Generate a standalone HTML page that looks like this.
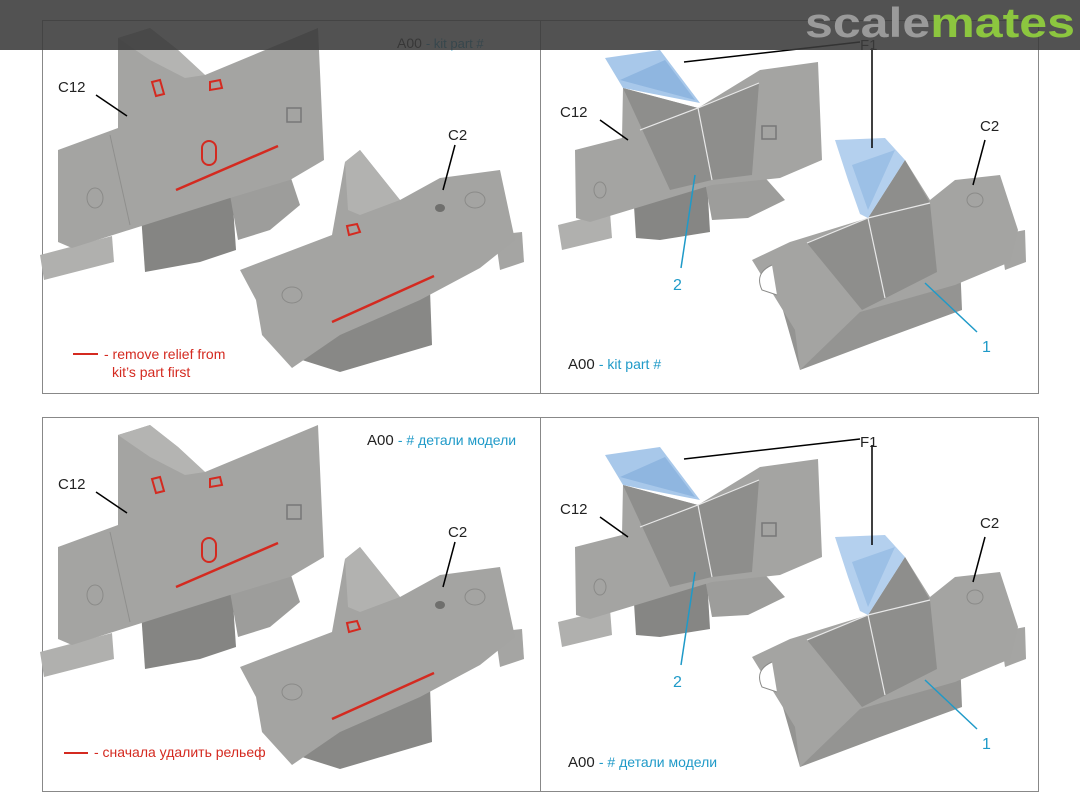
<!DOCTYPE html>
<html><head><meta charset="utf-8"><style>
html,body{margin:0;padding:0;background:#fff;width:1080px;height:810px;overflow:hidden}
svg{display:block}
text{font-family:"Liberation Sans","DejaVu Sans",sans-serif}
</style></head><body>
<svg width="1080" height="810" viewBox="0 0 1080 810" xmlns="http://www.w3.org/2000/svg">
<defs>
<g id="lp">
 <!-- C12 left -->
 <polygon points="40,255 112,236 114,262 44,280" fill="#b0b0ae"/>
 <polygon points="140,200 232,190 236,250 200,262 145,272" fill="#858583"/>
 <polygon points="230,195 290,175 300,205 270,230 238,240" fill="#9d9d9b"/>
 <polygon points="58,150 118,128 118,38 150,28 178,50 205,75 318,28 324,160 290,180 230,198 72,248 58,242" fill="#a4a4a2"/>
 <polygon points="118,38 150,28 178,50 205,75 185,78 150,60" fill="#b4b4b2"/>
 <line x1="110" y1="135" x2="130" y2="225" stroke="#8f8f8d" stroke-width="1"/>
 <ellipse cx="95" cy="198" rx="8" ry="10" fill="none" stroke="#8a8a88"/>
 <rect x="287" y="108" width="14" height="14" fill="none" stroke="#777" stroke-width="1.5"/>
 <polygon points="152,82 160,80 164,94 156,96" fill="none" stroke="#d42a20" stroke-width="2"/>
 <polygon points="210,82 220,80 222,88 210,90" fill="none" stroke="#d42a20" stroke-width="2"/>
 <rect x="202" y="141" width="14" height="24" rx="7" fill="none" stroke="#d42a20" stroke-width="2"/>
 <line x1="176" y1="190" x2="278" y2="146" stroke="#d42a20" stroke-width="2.5"/>
 <!-- C2 left -->
 <polygon points="300,320 430,290 432,345 340,372 302,360" fill="#888886"/>
 <polygon points="495,235 522,232 524,262 500,270" fill="#a5a5a3"/>
 <polygon points="240,270 332,235 345,162 360,150 380,175 400,200 440,178 500,170 515,240 480,268 420,300 340,335 292,368 262,335 256,300" fill="#a4a4a2"/>
 <polygon points="345,162 360,150 380,175 400,200 360,215 348,210" fill="#b2b2b0"/>
 <ellipse cx="292" cy="295" rx="10" ry="8" fill="none" stroke="#8a8a88"/>
 <ellipse cx="475" cy="200" rx="10" ry="8" fill="none" stroke="#8a8a88"/>
 <ellipse cx="440" cy="208" rx="5" ry="4" fill="#6f6f6d"/>
 <polygon points="347,226 357,224 360,232 349,235" fill="none" stroke="#d42a20" stroke-width="2"/>
 <line x1="332" y1="322" x2="434" y2="276" stroke="#d42a20" stroke-width="2.5"/>
 <!-- labels -->
 <line x1="96" y1="95" x2="127" y2="116" stroke="#000" stroke-width="1.5"/>
 <text x="58" y="92" font-size="15" fill="#222">C12</text>
 <line x1="455" y1="145" x2="443" y2="190" stroke="#000" stroke-width="1.5"/>
 <text x="448" y="140" font-size="15" fill="#222">C2</text>
</g>
<g id="rp">
 <polygon points="558,225 610,212 612,238 562,250" fill="#b0b0ae"/>
 <polygon points="633,190 707,180 710,232 660,240 636,238" fill="#868684"/>
 <polygon points="705,182 760,172 785,200 748,218 712,220" fill="#9d9d9b"/>
 <polygon points="575,150 622,138 623,88 698,108 760,70 818,62 822,160 780,178 712,185 590,222 576,218" fill="#a4a4a2"/>
 <polygon points="623,88 698,108 759,83 752,175 712,180 670,190" fill="#8e8e8c"/>
 <polyline points="640,130 698,108 712,180" fill="none" stroke="#e8e8e8" stroke-width="1.2"/>
 <line x1="698" y1="108" x2="759" y2="83" stroke="#e8e8e8" stroke-width="1.2"/>
 <polygon points="605,58 660,50 700,103 623,88" fill="#a8c8ea"/>
 <polygon points="620,80 665,60 695,100" fill="#8fb6e0"/>
 <rect x="762" y="126" width="14" height="13" fill="none" stroke="#777" stroke-width="1.5"/>
 <ellipse cx="600" cy="190" rx="6" ry="8" fill="none" stroke="#8a8a88"/>
 <!-- C2 right -->
 <polygon points="780,300 960,262 962,310 880,340 800,370" fill="#949492"/>
 <polygon points="1000,235 1025,230 1026,262 1005,270" fill="#a5a5a3"/>
 <polygon points="752,260 790,242 868,218 905,160 930,200 955,180 1000,175 1018,230 1010,262 955,285 860,312 800,370 795,330" fill="#a4a4a2"/>
 <polygon points="807,243 868,218 930,203 937,272 862,310" fill="#8e8e8c"/>
 <polygon points="868,218 905,160 930,203" fill="#8e8e8c"/>
 <polyline points="807,243 868,218 930,203" fill="none" stroke="#e8e8e8" stroke-width="1.2"/>
 <line x1="868" y1="218" x2="885" y2="298" stroke="#e8e8e8" stroke-width="1.2"/>
 <polygon points="835,140 885,138 905,160 868,218 860,214 848,180" fill="#b4d0ee"/>
 <polygon points="852,165 895,150 868,210" fill="#9cc0e6"/>
 <ellipse cx="975" cy="200" rx="8" ry="7" fill="none" stroke="#8a8a88"/>
 <path d="M772,265 q-18,8 -10,25 l15,5" fill="#fff" stroke="#8a8a88"/>
 <!-- labels -->
 <line x1="684" y1="62" x2="860" y2="42" stroke="#000" stroke-width="1.5"/>
 <line x1="872" y1="48" x2="872" y2="148" stroke="#000" stroke-width="1.5"/>
 <text x="860" y="50" font-size="15" fill="#222">F1</text>
 <line x1="600" y1="120" x2="628" y2="140" stroke="#000" stroke-width="1.5"/>
 <text x="560" y="117" font-size="15" fill="#222">C12</text>
 <line x1="985" y1="140" x2="973" y2="185" stroke="#000" stroke-width="1.5"/>
 <text x="980" y="131" font-size="15" fill="#222">C2</text>
 <line x1="695" y1="175" x2="681" y2="268" stroke="#1f9ac8" stroke-width="1.5"/>
 <text x="673" y="290" font-size="16" fill="#1f9ac8">2</text>
 <line x1="925" y1="283" x2="977" y2="332" stroke="#1f9ac8" stroke-width="1.5"/>
 <text x="982" y="352" font-size="16" fill="#1f9ac8">1</text>
</g>
</defs>
<rect x="42.5" y="20.5" width="996" height="373" fill="none" stroke="#888" stroke-width="1"/>
<line x1="540.5" y1="20" x2="540.5" y2="393" stroke="#888"/>
<rect x="42.5" y="417.5" width="996" height="374" fill="none" stroke="#888" stroke-width="1"/>
<line x1="540.5" y1="417" x2="540.5" y2="791" stroke="#888"/>
<use href="#lp"/>
<use href="#rp"/>
<text x="397" y="48" font-size="14" fill="#222">A00 <tspan fill="#1f9ac8" font-size="13">- kit part #</tspan></text>
<line x1="73" y1="354" x2="98" y2="354" stroke="#d42a20" stroke-width="2"/>
<text x="104" y="359" font-size="14" fill="#d42a20">- remove relief from</text>
<text x="112" y="377" font-size="14" fill="#d42a20">kit’s part first</text>
<text x="568" y="369" font-size="15" fill="#222">A00 <tspan fill="#1f9ac8" font-size="14">- kit part #</tspan></text>
<g transform="translate(0,397)"><use href="#lp"/><use href="#rp"/></g>
<text x="367" y="445" font-size="15" fill="#222">A00 <tspan fill="#1f9ac8" font-size="14">- # детали модели</tspan></text>
<line x1="64" y1="753" x2="88" y2="753" stroke="#d42a20" stroke-width="2"/>
<text x="94" y="757" font-size="14" fill="#d42a20">- сначала удалить рельеф</text>
<text x="568" y="767" font-size="15" fill="#222">A00 <tspan fill="#1f9ac8" font-size="14">- # детали модели</tspan></text>
<rect x="0" y="0" width="1080" height="50" fill="#3a3a3a" fill-opacity="0.88"/>
<text x="805" y="37" font-size="42" font-weight="bold" fill="#9a9a9a" textLength="270" lengthAdjust="spacingAndGlyphs">scale<tspan fill="#8cc63f">mates</tspan></text>
</svg>
</body></html>
